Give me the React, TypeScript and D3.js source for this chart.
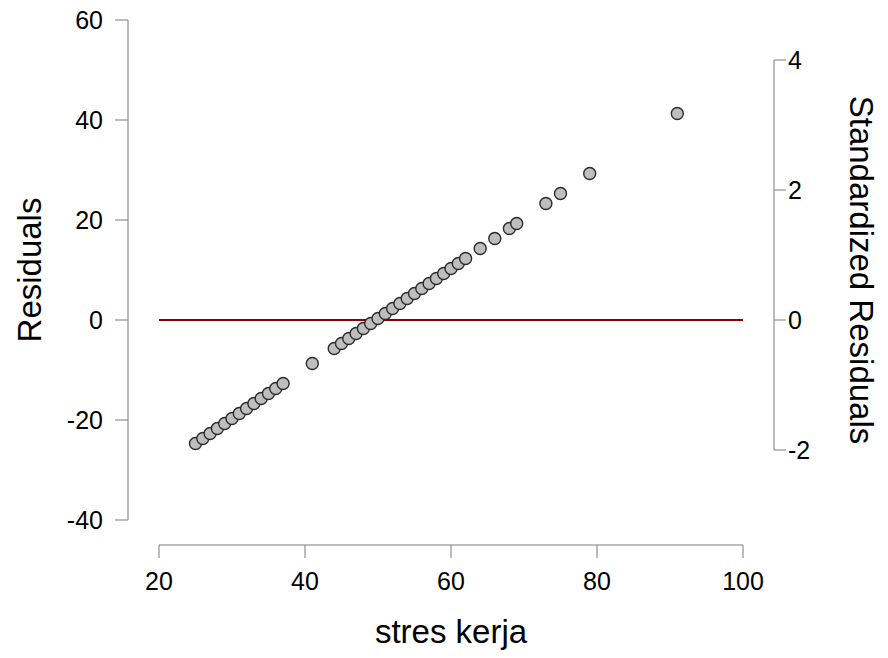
import React from "react";
import * as d3 from "d3";

// Residuals vs predictor (stres kerja)
const stresKerja: number[] = [
  25, 26, 27, 28, 29, 30, 31, 32, 33, 34, 35, 36, 37,
  41,
  44, 45, 46, 47, 48, 49, 50, 51, 52, 53, 54, 55, 56, 57, 58, 59, 60, 61, 62,
  64, 66, 68, 69, 73, 75, 79, 91,
];
const residuals: number[] = [
  -24.7, -23.7, -22.7, -21.7, -20.7, -19.7, -18.7, -17.7, -16.7, -15.7, -14.7, -13.7, -12.7,
  -8.7,
  -5.7, -4.7, -3.7, -2.7, -1.7, -0.7, 0.3, 1.3, 2.3, 3.3, 4.3, 5.3, 6.3, 7.3, 8.3, 9.3, 10.3, 11.3, 12.3,
  14.3, 16.3, 18.3, 19.3, 23.3, 25.3, 29.3, 41.3,
];

const xTicks: number[] = [20, 40, 60, 80, 100];
const yTicks: number[] = [-40, -20, 0, 20, 40, 60];
const stdTicks: number[] = [-2, 0, 2, 4];
// residual units per standardized unit
const residualScale = 13.0;

const W = 888;
const H = 658;
const FONT = "'Liberation Sans', Arial, Helvetica, sans-serif";

export default function App() {
  const x = d3.scaleLinear().domain([20, 100]).range([159, 743]);
  const y = d3.scaleLinear().domain([-40, 60]).range([520, 20]);
  const yStd = d3
    .scaleLinear()
    .domain([-40 / residualScale, 60 / residualScale])
    .range([520, 20]);

  const axisColor = "#7a7a7a";
  const leftX = 128;
  const bottomY = 545;
  const rightX = 774;

  return (
    <svg
      width={W}
      height={H}
      style={{ position: "absolute", left: 0, top: 0, background: "#fff" }}
      fontFamily={FONT}
    >
      <rect width={W} height={H} fill="#fff" />

      {/* left axis */}
      <line x1={leftX} x2={leftX} y1={y(60)} y2={y(-40)} stroke={axisColor} strokeWidth={1} />
      {yTicks.map((t) => (
        <g key={`y${t}`}>
          <line x1={leftX - 13} x2={leftX} y1={y(t)} y2={y(t)} stroke={axisColor} strokeWidth={1} />
          <text x={103} y={y(t)} dy="0.36em" textAnchor="end" fontSize={25} fill="#000">
            {t}
          </text>
        </g>
      ))}
      <text
        transform={`translate(41, ${(y(60) + y(-40)) / 2}) rotate(-90)`}
        textAnchor="middle"
        fontSize={33}
        fill="#000"
      >
        Residuals
      </text>

      {/* bottom axis */}
      <line x1={x(20)} x2={x(100)} y1={bottomY} y2={bottomY} stroke={axisColor} strokeWidth={1} />
      {xTicks.map((t) => (
        <g key={`x${t}`}>
          <line x1={x(t)} x2={x(t)} y1={bottomY} y2={bottomY + 13} stroke={axisColor} strokeWidth={1} />
          <text x={x(t)} y={590} textAnchor="middle" fontSize={25} fill="#000">
            {t}
          </text>
        </g>
      ))}
      <text x={(x(20) + x(100)) / 2} y={643} textAnchor="middle" fontSize={33} fill="#000">
        stres kerja
      </text>

      {/* right axis: standardized residuals */}
      <line x1={rightX} x2={rightX} y1={yStd(4)} y2={yStd(-2)} stroke={axisColor} strokeWidth={1} />
      {stdTicks.map((t) => (
        <g key={`s${t}`}>
          <line x1={rightX} x2={rightX + 12} y1={yStd(t)} y2={yStd(t)} stroke={axisColor} strokeWidth={1} />
          <text x={788} y={yStd(t)} dy="0.36em" textAnchor="start" fontSize={25} fill="#000">
            {t}
          </text>
        </g>
      ))}
      <text
        transform={`translate(850, ${(y(60) + y(-40)) / 2}) rotate(90)`}
        textAnchor="middle"
        fontSize={33}
        fill="#000"
      >
        Standardized Residuals
      </text>

      {/* zero reference line */}
      <line x1={x(20)} x2={x(100)} y1={y(0)} y2={y(0)} stroke="#8b0000" strokeWidth={2} />

      {/* points */}
      {stresKerja.map((v, i) => (
        <circle
          key={i}
          cx={x(v)}
          cy={y(residuals[i])}
          r={6}
          fill="#bebebe"
          stroke="#2b2b2b"
          strokeWidth={1.4}
        />
      ))}
    </svg>
  );
}
